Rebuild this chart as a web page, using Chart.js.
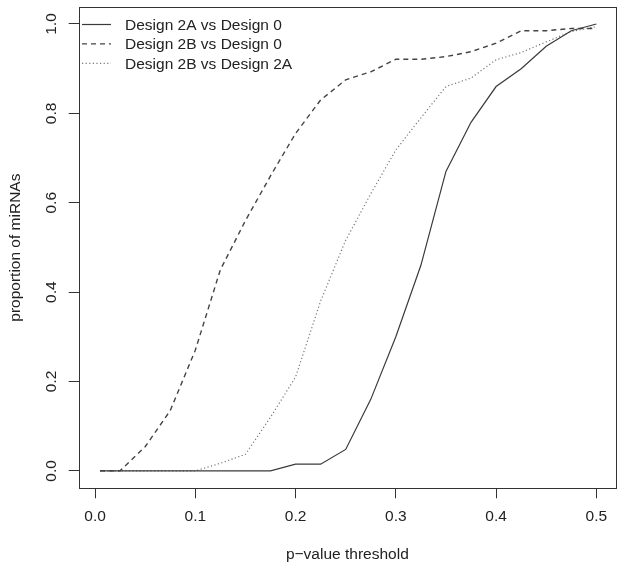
<!DOCTYPE html>
<html>
<head>
<meta charset="utf-8">
<script src="https://cdn.jsdelivr.net/npm/chart.js@4"></script>
<style>
  html, body { margin: 0; padding: 0; background: #fff; }
  #wrap { width: 624px; height: 571px; }
</style>
</head>
<body>
<div id="wrap"><canvas id="chart" width="624" height="571"></canvas></div>
<script>
// p-value thresholds on the x axis
const thresholds = [0.005, 0.025, 0.05, 0.075, 0.1, 0.125, 0.15, 0.175, 0.2, 0.225,
  0.25, 0.275, 0.3, 0.325, 0.35, 0.375, 0.4, 0.425, 0.45, 0.475, 0.5];

// proportion of miRNAs for each comparison
const design2AvsDesign0 = [0, 0, 0, 0, 0, 0, 0, 0, 0.015, 0.015,
  0.048, 0.16, 0.30, 0.46, 0.67, 0.78, 0.86, 0.90, 0.95, 0.985, 1.0];
const design2BvsDesign0 = [0, 0, 0.054, 0.135, 0.27, 0.45, 0.56, 0.66, 0.755, 0.83,
  0.875, 0.893, 0.921, 0.921, 0.927, 0.938, 0.957, 0.985, 0.985, 0.99, 0.99];
const design2BvsDesign2A = [0, 0, 0, 0, 0, 0.017, 0.037, 0.12, 0.21, 0.38,
  0.516, 0.62, 0.718, 0.79, 0.86, 0.879, 0.92, 0.936, 0.96, 0.983, 0.994];

const seriesLabels = ["Design 2A vs Design 0", "Design 2B vs Design 0", "Design 2B vs Design 2A"];
const xTicks = [0, 0.1, 0.2, 0.3, 0.4, 0.5];
const yTicks = [0, 0.2, 0.4, 0.6, 0.8, 1.0];
const xTitle = "p\u2212value threshold";
const yTitle = "proportion of miRNAs";

const FONT = '"Liberation Sans", Arial, Helvetica, sans-serif';
const FONT_SIZE = 15.5;
const INK = "#222";

function pts(values) {
  return values.map((v, i) => ({ x: thresholds[i], y: v }));
}

// R style frame, rotated y labels, axis titles and legend
const rDecor = {
  id: "rDecor",
  afterDraw(chart) {
    const ctx = chart.ctx;
    const a = chart.chartArea;
    const ys = chart.scales.y;
    ctx.save();
    ctx.strokeStyle = "#333";
    ctx.lineWidth = 1;
    ctx.strokeRect(Math.round(a.left) + 0.5, Math.round(a.top) + 0.5,
      Math.round(a.right - a.left), Math.round(a.bottom - a.top));

    ctx.fillStyle = INK;
    ctx.font = FONT_SIZE + "px " + FONT;
    ctx.textAlign = "center";
    ctx.textBaseline = "middle";
    yTicks.forEach(v => {
      ctx.save();
      ctx.translate(52, ys.getPixelForValue(v));
      ctx.rotate(-Math.PI / 2);
      ctx.fillText(v.toFixed(1), 0, 0);
      ctx.restore();
    });

    ctx.fillText(xTitle, (a.left + a.right) / 2, 555);
    ctx.save();
    ctx.translate(16, (a.top + a.bottom) / 2);
    ctx.rotate(-Math.PI / 2);
    ctx.fillText(yTitle, 0, 0);
    ctx.restore();

    // legend (no box)
    ctx.textAlign = "left";
    chart.data.datasets.forEach((ds, i) => {
      const y = 24.5 + i * 19.4;
      ctx.beginPath();
      ctx.strokeStyle = ds.borderColor;
      ctx.lineWidth = ds.borderWidth;
      ctx.setLineDash(ds.borderDash || []);
      ctx.moveTo(82, y);
      ctx.lineTo(111, y);
      ctx.stroke();
      ctx.setLineDash([]);
      ctx.fillStyle = INK;
      ctx.fillText(ds.label, 125, y + 1);
    });
    ctx.restore();
  }
};

new Chart(document.getElementById("chart"), {
  type: "line",
  data: {
    datasets: [
      {
        label: seriesLabels[0],
        data: pts(design2AvsDesign0),
        borderColor: "#3a3a3a",
        borderWidth: 1.2,
        pointRadius: 0,
        fill: false,
      },
      {
        label: seriesLabels[1],
        data: pts(design2BvsDesign0),
        borderColor: "#444",
        borderWidth: 1.4,
        borderDash: [5, 4],
        pointRadius: 0,
        fill: false,
      },
      {
        label: seriesLabels[2],
        data: pts(design2BvsDesign2A),
        borderColor: "#777",
        borderWidth: 1.2,
        borderDash: [1.2, 2.4],
        pointRadius: 0,
        fill: false,
      },
    ],
  },
  options: {
    responsive: false,
    animation: false,
    layout: { padding: { top: 7, right: 8, left: 0, bottom: 0 } },
    plugins: { legend: { display: false }, tooltip: { enabled: false } },
    scales: {
      x: {
        type: "linear",
        min: -0.0163,
        max: 0.5196,
        afterBuildTicks: s => { s.ticks = xTicks.map(v => ({ value: v })); },
        afterFit: s => { s.height = 82.7; },
        border: { display: false },
        grid: { drawOnChartArea: false, drawTicks: true, tickLength: 10, color: "#333" },
        ticks: {
          padding: 9,
          maxRotation: 0,
          color: INK,
          font: { family: FONT, size: FONT_SIZE },
          callback: v => Number(v).toFixed(1),
        },
      },
      y: {
        type: "linear",
        min: -0.039,
        max: 1.038,
        afterBuildTicks: s => { s.ticks = yTicks.map(v => ({ value: v })); },
        afterFit: s => { s.width = 78.7; },
        border: { display: false },
        grid: { drawOnChartArea: false, drawTicks: true, tickLength: 10, color: "#333" },
        ticks: { display: false },
      },
    },
  },
  plugins: [rDecor],
});
</script>
</body>
</html>
